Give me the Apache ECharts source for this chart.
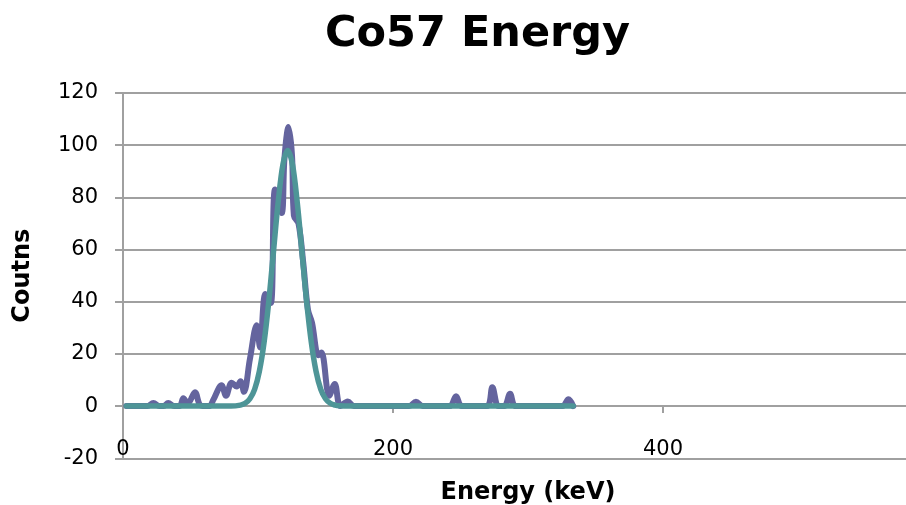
<!DOCTYPE html>
<html>
<head>
<meta charset="utf-8">
<script src="https://cdn.jsdelivr.net/npm/echarts@6/dist/echarts.min.js"></script>
<style>
html,body{margin:0;padding:0;background:#fff;}
#c{width:906px;height:505px;}
</style>
</head>
<body>
<div id="c"></div>
<script>
// Measured spectrum (purple)
const measuredEnergy = [2.5, 10, 18, 22.5, 27, 30, 33.5, 38, 42, 44.7, 48, 53.3, 57, 61, 64, 67, 73, 76.3, 80.5, 84.2, 87, 89.6, 94, 99, 101.5, 105.5, 109.5, 112.6, 117.5, 119.6, 122.6, 125.2, 126.6, 130, 133.5, 137, 140, 144.7, 147, 152.8, 156.8, 161, 166.5, 171, 212, 217, 222, 242, 246.7, 251, 269.5, 273.6, 278, 282.5, 286.7, 291, 325.5, 330, 333.5];
const measuredCounts = [0, 0, 0, 1.2, 0, 0, 1.2, 0, 0, 3, 1, 5.3, 0.5, 0, 0, 2.5, 8, 4, 9, 7.5, 9.5, 5.5, 18, 31, 22.5, 43, 39.5, 83, 74, 95, 107, 96, 73, 70, 55, 37, 32, 19.5, 20.5, 4, 8.5, 0, 1.8, 0, 0, 1.7, 0, 0, 3.8, 0, 0, 7.2, 0, 0, 4.7, 0, 0, 2.6, 0];
// Fit curve (teal)
const fitEnergy = [2.5, 80, 87, 90.5, 94, 97.5, 101, 104.5, 108, 111.5, 115, 118.5, 122, 125.5, 129, 132.5, 136, 139.5, 143, 146.5, 150, 153.5, 157, 160.5, 168, 333.5];
const fitCounts = [0, 0, 0.4, 1.1, 2.8, 6.4, 13.3, 24.4, 40.2, 59.4, 78.4, 92.7, 98, 92.7, 78.4, 59.4, 40.2, 24.4, 13.3, 6.4, 2.8, 1.1, 0.4, 0.1, 0, 0];
const yTicks = {min: -20, max: 120, step: 20};
const xTicks = {min: 0, max: 600, step: 200};

const pair = (xs, ys) => xs.map((x, i) => [x, ys[i]]);
const FONT = 'DejaVu Sans';
const GRID = '#A0A0A0';

const chart = echarts.init(document.getElementById('c'), null, {renderer: 'canvas'});
chart.setOption({
  animation: false,
  backgroundColor: '#fff',
  title: {
    text: 'Co57 Energy',
    left: 320, top: 8,
    textStyle: {fontFamily: FONT, fontSize: 43, fontWeight: 'bold', color: '#000'}
  },
  grid: {left: 123, top: 93, bottom: 46.7, right: -27, containLabel: false, outerBoundsMode: 'none'},
  xAxis: {
    type: 'value', min: xTicks.min, max: xTicks.max, interval: xTicks.step,
    name: 'Energy (keV)', nameLocation: 'middle', nameGap: 22,
    nameTextStyle: {fontFamily: FONT, fontSize: 24, fontWeight: 'bold', color: '#000'},
    axisLine: {onZero: true, lineStyle: {color: GRID, width: 2}},
    axisTick: {show: true, length: 7, lineStyle: {color: GRID, width: 2}},
    axisLabel: {fontFamily: FONT, fontSize: 21, color: '#000', margin: -19},
    splitLine: {show: false}
  },
  yAxis: {
    type: 'value', min: yTicks.min, max: yTicks.max, interval: yTicks.step,
    name: 'Coutns', nameLocation: 'middle', nameGap: 88,
    nameTextStyle: {fontFamily: FONT, fontSize: 24, fontWeight: 'bold', color: '#000'},
    axisLine: {show: true, onZero: false, lineStyle: {color: GRID, width: 2}},
    axisTick: {show: true, length: 8, lineStyle: {color: GRID, width: 2}},
    axisLabel: {fontFamily: FONT, fontSize: 21, color: '#000', margin: 25},
    splitLine: {show: true, lineStyle: {color: GRID, width: 2}}
  },
  series: [
    {
      type: 'line', data: pair(measuredEnergy, measuredCounts),
      smooth: 0.35, showSymbol: false, symbol: 'none',
      lineStyle: {color: '#64649E', width: 6, cap: 'round', join: 'round'},
      z: 2
    },
    {
      type: 'line', data: pair(fitEnergy, fitCounts),
      smooth: 0.35, showSymbol: false, symbol: 'none',
      lineStyle: {color: '#4E9597', width: 5.5, cap: 'round', join: 'round'},
      z: 3
    }
  ]
});
</script>
</body>
</html>
